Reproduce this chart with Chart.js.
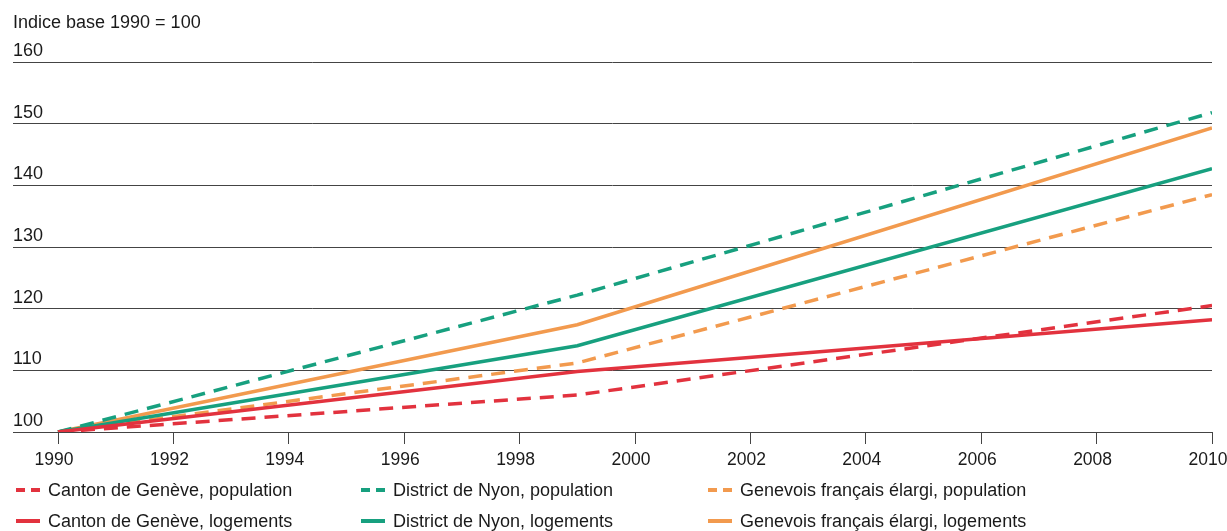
<!DOCTYPE html>
<html>
<head>
<meta charset="utf-8">
<script src="https://cdn.jsdelivr.net/npm/chart.js@4/dist/chart.umd.min.js"></script>
<style>
  body { margin: 0; background: #fff; font-family: "Liberation Sans", Arial, sans-serif; }
  #wrap { position: relative; width: 1227px; height: 531px; overflow: hidden; }
  #box { position: absolute; left: 0; top: 0; width: 1227px; height: 480px; }
  .leg { position: absolute; font-size: 18px; color: #1a1a1a; white-space: nowrap; line-height: 22px; }
  .leg svg { position: absolute; top: 8px; }
</style>
</head>
<body>
<div id="wrap">
  <div id="box"><canvas id="chart"></canvas></div>
  <div id="legend"></div>
</div>
<script>
// années (points de rupture des séries)
const years = [1990, 1999, 2010];
const xTicks = [1990, 1992, 1994, 1996, 1998, 2000, 2002, 2004, 2006, 2008, 2010];
const yTicks = [100, 110, 120, 130, 140, 150, 160];

// valeurs (indice 1990 = 100)
const genevePop = [100, 106.0, 120.5];
const genevLog = [100, 109.8, 118.2];
const nyonPop = [100, 122.2, 151.8];
const nyonLog = [100, 114.0, 142.7];
const gfPop = [100, 111.2, 138.5];
const gfLog = [100, 117.4, 149.3];

const seriesNames = [
    'Canton de Genève, population',
    'Canton de Genève, logements',
    'District de Nyon, population',
    'District de Nyon, logements',
    'Genevois français élargi, population',
    'Genevois français élargi, logements'
];

const red = '#e2323e';
const green = '#17a07f';
const orange = '#f29a4e';

function pts(vals) {
    return years.map((y, i) => ({ x: y, y: vals[i] }));
}

const dash = [14, 9];
const datasets = [
    { label: seriesNames[0], data: pts(genevePop), borderColor: red, borderDash: dash },
    { label: seriesNames[1], data: pts(genevLog), borderColor: red },
    { label: seriesNames[2], data: pts(nyonPop), borderColor: green, borderDash: dash },
    { label: seriesNames[3], data: pts(nyonLog), borderColor: green },
    { label: seriesNames[4], data: pts(gfPop), borderColor: orange, borderDash: dash },
    { label: seriesNames[5], data: pts(gfLog), borderColor: orange }
];
datasets.forEach(d => {
    d.borderWidth = 3.5;
    d.pointRadius = 0;
    d.tension = 0;
    d.fill = false;
});

const chart = new Chart(document.getElementById('chart'), {
    type: 'line',
    data: { datasets: datasets },
    options: {
        responsive: true,
        maintainAspectRatio: false,
        animation: false,
        layout: { padding: { left: 13, right: 15, top: 12, bottom: 3 } },
        plugins: {
            legend: { display: false },
            tooltip: { enabled: false },
            title: {
                display: true,
                text: 'Indice base 1990 = 100',
                align: 'start',
                color: '#1a1a1a',
                font: { family: 'Liberation Sans', size: 18, weight: 'normal' },
                padding: { top: 0, bottom: 28.4 }
            }
        },
        scales: {
            x: {
                type: 'linear',
                min: 1989.22,
                max: 2010.0,
                afterBuildTicks: s => { s.ticks = xTicks.map(v => ({ value: v })); },
                afterFit: s => { s.paddingLeft = 0; s.paddingRight = 0; },
                grid: { drawOnChartArea: false, drawTicks: true, tickLength: 12, color: '#444' },
                border: { display: true, color: '#444', width: 1 },
                ticks: {
                    color: '#1a1a1a',
                    padding: 6,
                    labelOffset: -4,
                    maxRotation: 0,
                    autoSkip: false,
                    font: { family: 'Liberation Sans', size: 17.5 },
                    callback: v => String(v)
                }
            },
            y: {
                min: 100,
                max: 160,
                afterBuildTicks: s => { s.ticks = yTicks.map(v => ({ value: v })); },
                grid: { color: '#444', lineWidth: 1, drawTicks: false },
                border: { display: false },
                ticks: {
                    mirror: true,
                    padding: 0,
                    labelOffset: -11,
                    color: '#1a1a1a',
                    font: { family: 'Liberation Sans', size: 18 }
                }
            }
        }
    }
});

// légende en HTML, trois colonnes de deux lignes
const legendPos = [[16, 479], [16, 510], [361, 479], [361, 510], [708, 479], [708, 510]];
const legend = document.getElementById('legend');
datasets.forEach((d, i) => {
    const el = document.createElement('div');
    el.className = 'leg';
    el.style.left = legendPos[i][0] + 'px';
    el.style.top = legendPos[i][1] + 'px';
    el.style.paddingLeft = '32px';
    const da = d.borderDash ? 'stroke-dasharray="9 6"' : '';
    el.innerHTML = '<svg width="24" height="6" style="left:0"><line x1="0" y1="3" x2="24" y2="3" stroke="' +
        d.borderColor + '" stroke-width="4" ' + da + '/></svg>' + d.label;
    legend.appendChild(el);
});
</script>
</body>
</html>
